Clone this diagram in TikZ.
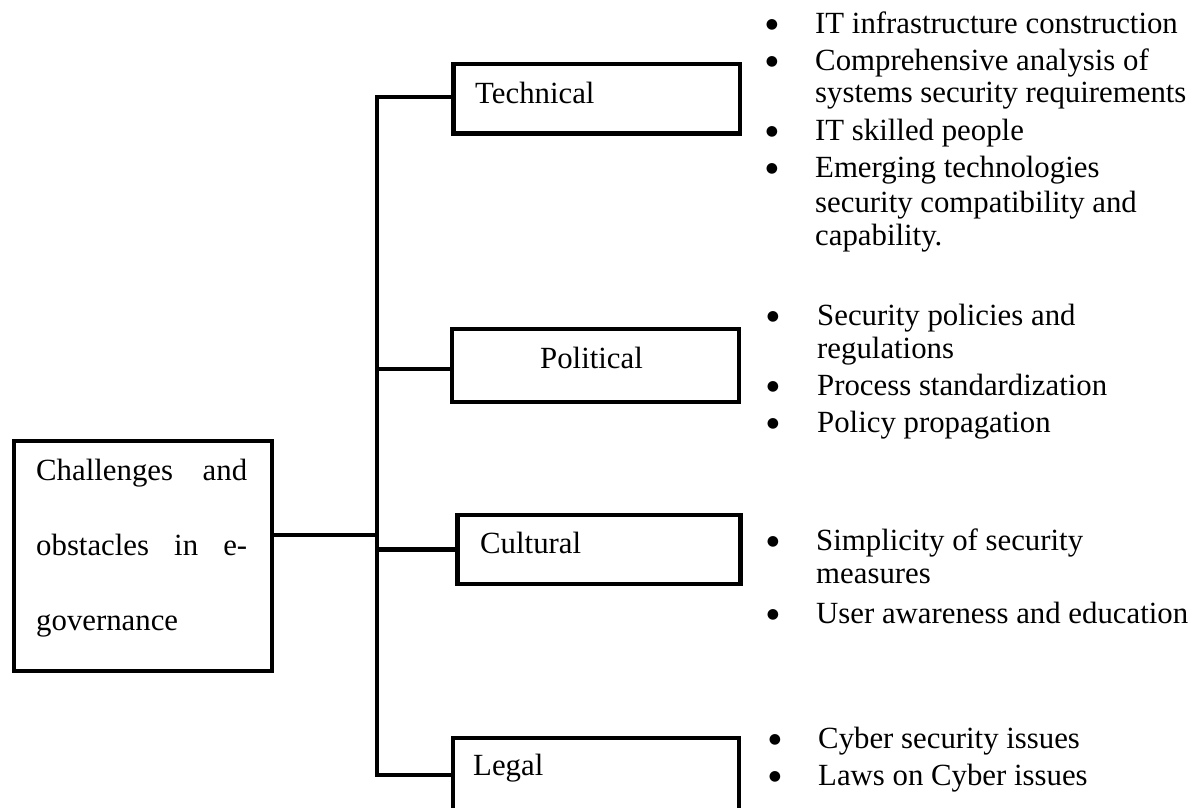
\documentclass[tikz,border=0pt]{standalone}
\usepackage{fontspec}
\setmainfont{Liberation Serif}
\newfontfamily\dotfont{DejaVu Sans}
\usetikzlibrary{calc}
\begin{document}
\begin{tikzpicture}[x=1pt,y=-1pt,
  frame/.style={draw, line width=4.5pt, outer sep=0pt, inner sep=0pt, anchor=north west},
  conn/.style={line width=4.5pt},
  lbl/.style={inner sep=0pt, anchor=base west, font=\fontsize{30.8}{33}\selectfont},
  dot/.style={inner sep=0pt, anchor=center, yshift=8pt, font=\dotfont\fontsize{14}{14}\selectfont}]
\useasboundingbox (0,0) rectangle (1202,807);
\clip (0,0) rectangle (1202,807);

% boxes
\node[frame, minimum width=258pt, minimum height=230pt] (main) at (14,441) {};
\node[frame, minimum width=286.5pt, minimum height=69.5pt] (tech) at (453.5,64) {};
\node[frame, minimum width=287pt, minimum height=73pt] (pol) at (452,329) {};
\node[frame, minimum width=283pt, minimum height=69pt] (cult) at (457.7,515) {};
\node[frame, minimum width=286pt, minimum height=74pt] (legal) at (453,738) {};

% connectors
\coordinate (techJ) at ($(tech.north west)!0.475!(tech.south west)$);
\coordinate (polJ) at ($(pol.north west)!0.548!(pol.south west)$);
\coordinate (mainJ) at ($(main.north east)!0.409!(main.south east)$);
\coordinate (spineTop) at (377,0 |- techJ);
\coordinate (spineBot) at (377,0 |- legal.west);
\draw[conn] (techJ) -- (spineTop) -- (spineBot) -- (legal.west);
\draw[conn] (polJ) -- (spineTop |- polJ);
\draw[conn] (cult.west) -- (spineTop |- cult.west);
\draw[conn] (mainJ) -- (spineTop |- mainJ);

% box labels
\node[lbl] (m1) at (36,480) {\hbox to 211pt{Challenges\hfill and}};
\node[lbl] (m2) at (36,555) {\hbox to 211pt{obstacles\hfill in\hfill e-}};
\node[lbl] (m3) at (36,630) {governance};
\node[lbl] (techL) at (475,103) {Technical};
\node[lbl] (polL) at (540,368) {Political};
\node[lbl] (cultL) at (480,553) {Cultural};
\node[lbl] (legalL) at (473,775) {Legal};

% technical items
\node[dot] (tb1) at (772,33) {●};
\node[lbl] (t1) at (815,33) {IT infrastructure construction};
\node[dot] (tb2) at (772,70) {●};
\node[lbl] (t2) at (815,70) {Comprehensive analysis of};
\node[lbl] (t2b) at (815,102) {systems security requirements};
\node[dot] (tb3) at (772,140) {●};
\node[lbl] (t3) at (815,140) {IT skilled people};
\node[dot] (tb4) at (772,177) {●};
\node[lbl] (t4) at (815,177) {Emerging technologies};
\node[lbl] (t4b) at (815,212) {security compatibility and};
\node[lbl] (t4c) at (815,245) {capability.};

% political items
\node[dot] (pb1) at (773,325) {●};
\node[lbl] (p1) at (817,325) {Security policies and};
\node[lbl] (p1b) at (817,358) {regulations};
\node[dot] (pb2) at (773,395) {●};
\node[lbl] (p2) at (817,395) {Process standardization};
\node[dot] (pb3) at (773,432) {●};
\node[lbl] (p3) at (817,432) {Policy propagation};

% cultural items
\node[dot] (cb1) at (773,550) {●};
\node[lbl] (c1) at (816,550) {Simplicity of security};
\node[lbl] (c1b) at (816,583) {measures};
\node[dot] (cb2) at (773,623) {●};
\node[lbl] (c2) at (816,623) {User awareness and education};

% legal items
\node[dot] (lb1) at (775,748) {●};
\node[lbl] (l1) at (818,748) {Cyber security issues};
\node[dot] (lb2) at (775,785) {●};
\node[lbl] (l2) at (818,785) {Laws on Cyber issues};
\end{tikzpicture}
\end{document}
